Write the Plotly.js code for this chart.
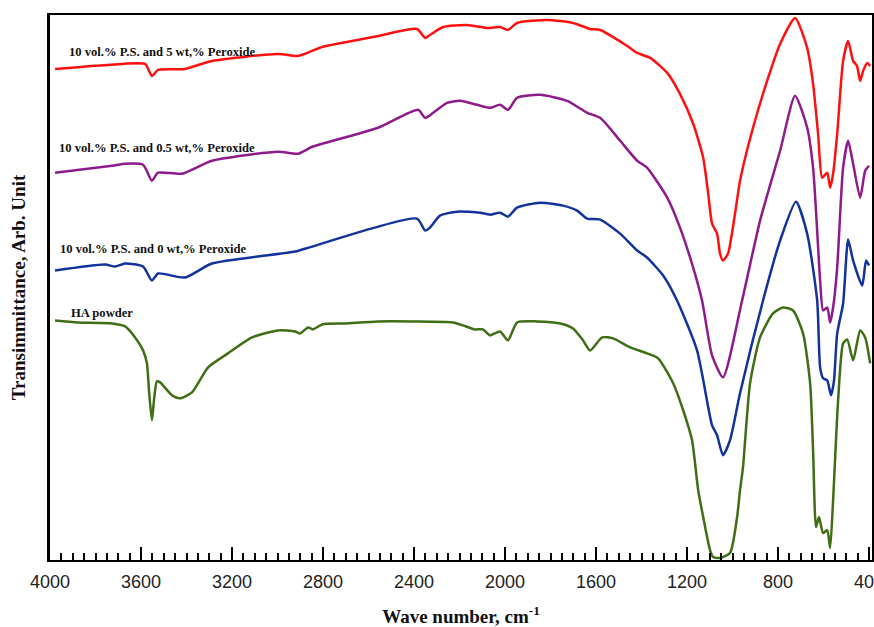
<!DOCTYPE html>
<html>
<head>
<meta charset="utf-8">
<script src="https://cdn.plot.ly/plotly-3.0.1.min.js"></script>
<style>
  html, body { margin: 0; padding: 0; background: #fff; }
  #chart { width: 874px; height: 627px; }
</style>
</head>
<body>
<div id="chart"></div>
<script>
// Wavenumbers (cm^-1) and transmittance (arbitrary units, offset per curve)
const redWave = [3978,3683,3582,3552,3525,3407,3288,2998,2910,2848,2804,2558,2387,2351,2330,2272,2167,2079,2022,1987,1947,1815,1701,1626,1582,1463,1419,1362,1287,1231,1173,1129,1107,1090,1068,1055,1042,1020,989,967,910,848,791,725,672,646,624,606,584,571,558,540,514,492,470,453,439,426,408,395];
const redVal  = [492,497,497,485,491,492,500,507,505,510,514,525,532,523,526,534,536,533,534,531,538,541,538,532,531,515,508,503,488,467,437,403,367,337,327,307,300,307,347,380,433,480,517,543,513,477,427,383,388,373,387,427,500,520,500,495,480,490,498,495];

const purpleWave = [3978,3727,3670,3591,3552,3525,3420,3288,2998,2910,2848,2804,2558,2382,2351,2316,2255,2198,2123,2066,2022,1987,1947,1846,1727,1639,1582,1494,1419,1376,1287,1231,1173,1134,1090,1042,958,879,791,725,672,646,615,602,584,571,558,540,514,492,470,439,417,400];
const purpleVal  = [388,395,397,396,380,388,387,400,409,407,414,417,433,451,443,448,458,460,456,453,456,451,463,466,460,448,443,420,400,393,363,333,293,260,205,183,260,340,410,465,433,393,280,250,253,238,253,293,393,420,397,363,390,395];

const blueWave = [3978,3758,3714,3670,3591,3552,3525,3407,3288,2923,2848,2387,2351,2330,2286,2211,2110,2066,2022,1987,1947,1846,1745,1683,1639,1582,1494,1419,1376,1305,1244,1156,1090,1068,1042,1011,967,866,791,721,672,628,615,602,584,567,554,540,514,492,470,430,413,400];
const blueVal  = [290,296,294,297,294,280,287,283,297,309,314,342,330,333,345,349,348,346,348,344,353,358,355,350,342,341,327,310,303,285,260,210,135,125,105,120,167,260,320,359,327,260,193,182,180,165,180,227,257,321,300,275,300,295];

const greenWave = [3978,3877,3727,3670,3626,3591,3574,3565,3552,3543,3530,3516,3464,3429,3376,3305,3218,3112,2998,2923,2901,2866,2844,2804,2703,2558,2409,2228,2184,2132,2097,2066,2022,1987,1947,1859,1758,1701,1657,1626,1573,1525,1450,1376,1327,1261,1217,1178,1151,1129,1099,1085,1055,1011,980,967,954,923,879,822,778,734,690,659,646,633,620,602,584,571,558,536,514,496,470,439,417,395];
const greenVal  = [240,238,237,234,223,210,197,170,140,160,179,178,165,162,168,193,207,223,230,229,227,233,231,236,237,239,239,238,235,231,231,225,229,220,238,239,237,232,220,210,223,222,213,207,202,177,150,120,70,43,10,3,2,7,43,70,93,177,223,247,253,250,227,177,110,33,43,27,30,12,60,160,217,221,200,230,223,197];

const seriesNames = ["10 vol.% P.S. and 5 wt,% Peroxide", "10 vol.% P.S. and 0.5 wt,% Peroxide", "10 vol.% P.S. and 0 wt,% Peroxide", "HA powder"];
const seriesColors = ["#ff1010", "#8e1a8c", "#12329c", "#3f6e14"];
const labelWave = [3925, 3968, 3966, 3918];
const labelVal = [509, 413, 312, 247];

const tickVals = [4000, 3600, 3200, 2800, 2400, 2000, 1600, 1200, 800, 400];
const tickText = ["4000", "3600", "3200", "2800", "2400", "2000", "1600", "1200", "800", "40&nbsp;&nbsp;"];

const xs = [redWave, purpleWave, blueWave, greenWave];
const ys = [redVal, purpleVal, blueVal, greenVal];

const traces = xs.map((x, i) => ({
  type: "scatter",
  mode: "lines",
  x: x,
  y: ys[i],
  name: seriesNames[i],
  line: { color: seriesColors[i], width: 2.5, shape: "spline", smoothing: 0.6 },
  hoverinfo: "x+y+name"
}));

const annotations = seriesNames.map((t, i) => ({
  x: labelWave[i], y: labelVal[i], xref: "x", yref: "y",
  text: "<b>" + t + "</b>", showarrow: false,
  xanchor: "left", yanchor: "middle",
  font: { family: "Liberation Serif, Times New Roman, serif", size: 12.6, color: "#111" }
}));

const layout = {
  width: 874, height: 627,
  paper_bgcolor: "#fff", plot_bgcolor: "#fff",
  showlegend: false,
  margin: { l: 50, r: 2, t: 15, b: 67 },
  xaxis: {
    range: [4000, 387],
    tickmode: "array", tickvals: tickVals, ticktext: tickText,
    ticks: "inside", ticklen: 13, tickwidth: 2, tickcolor: "#000",
    ticklabeloverflow: "allow", ticklabelstandoff: 4,
    showline: true, linewidth: 2, linecolor: "#000", mirror: true,
    showgrid: false, zeroline: false,
    tickfont: { family: "Liberation Sans, Arial, sans-serif", size: 18, color: "#222" },
    minor: { tickmode: "linear", tick0: 400, dtick: 50, ticks: "inside", ticklen: 7, tickwidth: 2, tickcolor: "#000", showgrid: false },
    title: { text: "<b>Wave number, cm<sup>-1</sup></b>", standoff: 20,
      font: { family: "Liberation Serif, Times New Roman, serif", size: 19, color: "#111" } }
  },
  yaxis: {
    range: [0, 546],
    showticklabels: false, ticks: "",
    showline: true, linewidth: 3, linecolor: "#000", mirror: true,
    showgrid: false, zeroline: false,
    title: { text: "<b>Transimmittance, Arb. Unit</b>", standoff: 17,
      font: { family: "Liberation Serif, Times New Roman, serif", size: 19, color: "#111" } }
  },
  annotations: annotations
};

Plotly.newPlot("chart", traces, layout, { displayModeBar: false, staticPlot: true });
</script>
</body>
</html>
